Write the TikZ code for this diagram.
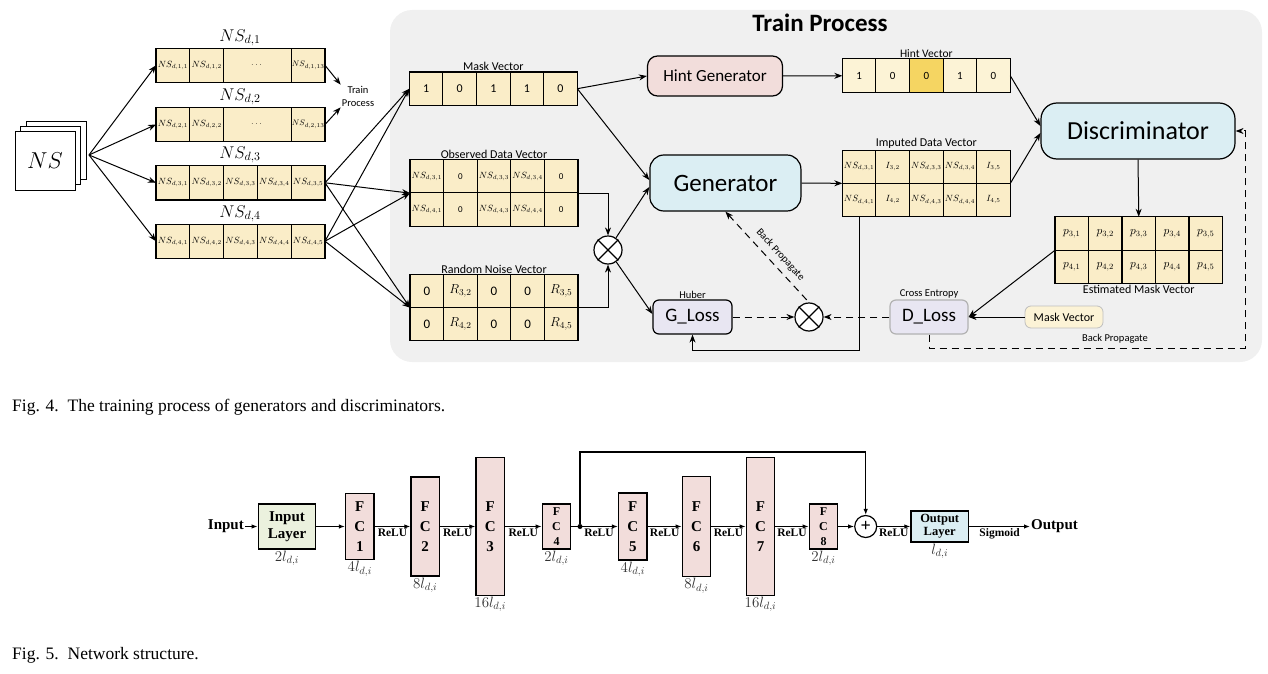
\RequirePackage{fix-cm}
\documentclass[tikz,border=0pt]{standalone}
\usepackage{amsmath}
\usepackage{fontspec}
\setmainfont{Liberation Serif}
\newfontfamily\calibri{Carlito}
\usetikzlibrary{calc,arrows.meta,positioning}
\definecolor{panelgray}{RGB}{240,240,240}
\definecolor{cellyellow}{RGB}{250,237,200}
\definecolor{hintpale}{RGB}{252,243,214}
\definecolor{hintgold}{RGB}{245,213,98}
\definecolor{hintrose}{RGB}{242,221,219}
\definecolor{netblue}{RGB}{219,238,243}
\definecolor{losslilac}{RGB}{232,230,242}
\definecolor{fcpink}{RGB}{242,221,219}
\definecolor{inputgreen}{RGB}{235,241,222}
\definecolor{dimgray}{RGB}{50,50,50}
\newcommand\fsz[2]{\fontsize{#1}{#2}\selectfont}

\tikzset{
  vcell/.style={draw, line width=1.1pt, fill=cellyellow, minimum width=33.6pt,
    minimum height=33.3pt, inner sep=0pt, outer sep=0pt},
  nscell/.style={vcell, minimum width=33.8pt, minimum height=34.3pt, font=\fsz{9}{11}},
  veclabel/.style={font=\calibri\fsz{12}{14}, inner sep=1pt},
  block/.style={draw, line width=1.2pt, inner sep=2pt},
  arr/.style={-{Stealth[length=8pt,width=6pt]}, line width=1pt},
  dasharr/.style={arr, dash pattern=on 7pt off 5pt},
  mulnode/.style={circle, draw, fill=white, line width=1.2pt, minimum size=28pt, inner sep=0pt},
  netbox/.style={draw, line width=1.5pt, inner sep=1pt, align=center},
  fcbox/.style={netbox, fill=fcpink, minimum width=28.3pt, font=\bfseries\fsz{15}{20}},
  netarr/.style={-{Latex[length=6pt,width=4.5pt]}, line width=1.1pt},
  relu/.style={font=\bfseries\fsz{11.5}{13}, anchor=north, inner sep=2pt},
  dimlabel/.style={text=dimgray, font=\fsz{15}{17}, anchor=north, inner sep=1pt}
}

\begin{document}
\begin{tikzpicture}[x=1pt, y=-1pt]
\useasboundingbox (0,0) rectangle (1268,674);

% ---------------- Fig. 4: training process ----------------
\fill[panelgray, rounded corners=22pt] (390,10) rectangle (1262,362);
\node[font=\calibri\bfseries\fsz{25}{30}] (title) at (820,23) {Train Process};

% stacked NS sheets
\node[draw, fill=white, line width=1pt, minimum width=60pt, minimum height=58pt] (ns3) at (56.7,150.7) {};
\node[draw, fill=white, line width=1pt, minimum width=60pt, minimum height=58pt] (ns2) at (50.7,155.7) {};
\node[draw, fill=white, line width=1pt, minimum width=60pt, minimum height=58pt, font=\fsz{23}{26}] (ns) at (45,161) {$NS$};
\coordinate (fan) at (89,155);

% NS_d rows
\foreach \rw/\yy in {1/65.3,2/124.5} {
  \node[nscell] (row\rw-1) at (172.9,\yy) {$NS_{d,\rw,1}$};
  \node[nscell] (row\rw-2) at (206.7,\yy) {$NS_{d,\rw,2}$};
  \node[nscell, minimum width=67.6pt] (row\rw-3) at (257.4,\yy) {$\dots$};
  \node[nscell, font=\fsz{8}{10}] (row\rw-e) at (308.1,\yy) {$NS_{d,\rw,13}$};
}
\foreach \rw/\yy in {3/182.8,4/241.2}
  \foreach \c in {1,...,5}
    \node[nscell] (row\rw-\c) at ({156+(\c-0.5)*33.8},\yy) {$NS_{d,\rw,\c}$};
\foreach \rw/\yy in {1/38,2/97,3/155,4/214}
  \node[font=\fsz{17}{20}] (lab\rw) at (240,\yy) {$NS_{d,\rw}$};
\foreach \rw in {1,...,4}
  \draw[arr] (fan) -- (row\rw-1.west);

\node[veclabel, font=\calibri\fsz{10.5}{13}, align=center] (tp) at (358,96) {Train\\Process};
\draw[arr] (row1-e.east) -- (tp.north west);
\draw[arr] (row2-e.east) -- (tp.south west);

% mask, observed and noise vectors
\foreach \t [count=\c] in {1,0,1,1,0}
  \node[vcell, font=\calibri\fsz{12}{14}] (mask\c) at ({409.3+(\c-0.5)*33.6},88.7) {\t};
\foreach \r/\rw in {1/3,2/4}
  \foreach \t [count=\c] in {{$NS_{d,\rw,1}$},{\calibri 0},{$NS_{d,\rw,3}$},{$NS_{d,\rw,4}$},{\calibri 0}}
    \node[vcell, font=\fsz{9}{11}] (obs\r\c) at ({410+(\c-0.5)*33.6},{143.5+\r*33}) {\t};
\foreach \r/\rw in {1/3,2/4}
  \foreach \t [count=\c] in {{\calibri 0},{$R_{\rw,2}$},{\calibri 0},{\calibri 0},{$R_{\rw,5}$}}
    \node[vcell, font=\fsz{13}{15}] (rnd\r\c) at ({410+(\c-0.5)*33.6},{258+\r*33}) {\t};
\node[veclabel, anchor=south] (masklab) at (mask3.north) {Mask Vector};
\node[veclabel, anchor=south] (obslab) at (obs13.north) {Observed Data Vector};
\node[veclabel, anchor=south] (rndlab) at (rnd13.north) {Random Noise Vector};
\foreach \rw in {3,4} {
  \draw[arr] (row\rw-5.east) -- (mask1.west);
  \draw[arr] (row\rw-5.east) -- (obs11.south west);
  \draw[arr] (row\rw-5.east) -- (rnd11.south west);
}

% hint, imputed and estimated vectors
\foreach \t/\f [count=\c] in {1/hintpale,0/hintpale,0/hintgold,1/hintpale,0/hintpale}
  \node[vcell, fill=\f, minimum height=33.7pt, font=\calibri\fsz{11}{13}] (hint\c) at ({842.3+(\c-0.5)*33.6},75.8) {\t};
\foreach \r/\rw in {1/3,2/4}
  \foreach \t [count=\c] in {{$NS_{d,\rw,1}$},{$I_{\rw,2}$},{$NS_{d,\rw,3}$},{$NS_{d,\rw,4}$},{$I_{\rw,5}$}}
    \node[vcell, font=\fsz{9}{11}] (imp\r\c) at ({842.3+(\c-0.5)*33.6},{133.4+\r*33.3}) {\t};
\foreach \r/\rw in {1/3,2/4}
  \foreach \c in {1,...,5}
    \node[vcell, minimum width=33.5pt, minimum height=33.5pt, font=\fsz{11.5}{13}] (est\r\c) at ({1055+(\c-0.5)*33.5},{200+\r*33.5}) {$p_{\rw,\c}$};
\node[veclabel, font=\calibri\fsz{11.5}{13}, anchor=south] (hintlab) at (hint3.north) {Hint Vector};
\node[veclabel, anchor=south] (implab) at (imp13.north) {Imputed Data Vector};
\node[veclabel, anchor=north] (estlab) at (est23.south) {Estimated Mask Vector};

% networks and losses
\node[block, fill=hintrose, minimum width=135pt, minimum height=40pt, rounded corners=10pt, font=\calibri\fsz{17}{20}] (hgen) at (715,76) {Hint Generator};
\node[block, fill=netblue, minimum width=151pt, minimum height=56pt, rounded corners=14pt, font=\calibri\fsz{25}{30}] (gen) at (725.4,183) {Generator};
\node[block, fill=netblue, minimum width=194pt, minimum height=56pt, rounded corners=16pt, font=\calibri\fsz{26}{30}] (disc) at (1138,131) {Discriminator};
\node[block, fill=losslilac, minimum width=79pt, minimum height=34pt, rounded corners=6pt, font=\calibri\fsz{19}{22}] (gloss) at (692.5,317) {G\_Loss};
\node[block, draw=black!30, fill=losslilac, minimum width=78pt, minimum height=34pt, rounded corners=6pt, font=\calibri\fsz{19}{22}] (dloss) at (929,317) {D\_Loss};
\node[block, draw=black!25, line width=0.8pt, fill=hintpale, minimum width=78pt, minimum height=22pt, rounded corners=6pt, font=\calibri\fsz{12}{14}] (maskin) at (1064,317) {Mask Vector};
\node[veclabel, font=\calibri\fsz{10.5}{13}, anchor=south] (huber) at (gloss.north) {Huber};
\node[veclabel, font=\calibri\fsz{10.5}{13}, anchor=south] (xent) at (dloss.north) {Cross Entropy};

% element-wise products
\node[mulnode] (mul1) at (608,250) {};
\node[mulnode] (mul2) at (809,317) {};
\foreach \m in {mul1,mul2}
  \draw[line width=1.2pt] (\m.north west) -- (\m.south east) (\m.north east) -- (\m.south west);

% connectors
\draw[arr] (obs15.south east) -| (mul1.north);
\draw[arr] (rnd15.south east) -| (mul1.south);
\draw[arr] (mask5.east) -- (hgen.west);
\draw[arr] (mask5.east) -- ($(gen.west)+(0,-3)$);
\draw[arr] (mul1) -- ($(gen.west)+(0,4)$);
\draw[arr] (mul1) -- ($(gloss.west)+(0,-3)$);
\draw[arr] (hgen.east) -- (hint1.west);
\draw[arr] (hint5.east) -- ($(disc.west)+(0,-5)$);
\draw[arr] (imp15.south east) -- ($(disc.west)+(0,2)$);
\draw[arr] (gen.east) -- (imp11.south west);
\draw[arr] (disc.south) -- (est13.north);
\draw[arr] (est11.south west) -- (dloss.east);
\draw[arr] (maskin.west) -- (dloss.east);
\draw[arr] (imp21.south) |- ($(gloss.south)+(0,15.5)$) -- (gloss.south);
\draw[dasharr] (gloss.east) -- (mul2.west);
\draw[dasharr] (dloss.west) -- (mul2.east);
\draw[dasharr, {Stealth[length=8pt,width=6pt]}-] (gen.south) -- node[pos=0.56, sloped, above=5pt, font=\calibri\fsz{10.5}{13}, inner sep=1pt] (bplab) {Back Propagate} (mul2.north);
\coordinate (bpcorner) at (1245,348);
\draw[dasharr] (dloss.south) |- (bpcorner) |- (disc.east);
\node[veclabel, font=\calibri\fsz{10.5}{13}] (bplab2) at (1115,339) {Back Propagate};

\node[anchor=base west, font=\fsz{17.5}{20}, inner sep=0pt] (cap4) at (12,411) {Fig. 4.\enspace The training process of generators and discriminators.};

% ---------------- Fig. 5: network structure ----------------
\node[font=\bfseries\fsz{15}{18}, anchor=east, inner sep=1pt] (inp) at (245,526.5) {Input};
\node[netbox, fill=inputgreen, minimum width=57.4pt, minimum height=45pt, font=\bfseries\fsz{15}{17}] (inlayer) at (287,526.5) {Input\\Layer};
\foreach \n/\xx/\hh in {1/359.8/66pt,2/425.2/99.3pt,3/490.2/137.7pt,5/632.8/66.6pt,6/696.5/100pt,7/760.5/137.7pt}
  \node[fcbox, minimum height=\hh] (fc\n) at (\xx,526.5) {F\\C\\\n};
\foreach \n/\xx in {4/556.5,8/823.5}
  \node[fcbox, minimum height=45pt, font=\bfseries\fsz{12}{15}] (fc\n) at (\xx,526.5) {F\\C\\\n};
\node[circle, draw, line width=1.2pt, fill=white, minimum size=22pt, inner sep=0pt, font=\bfseries\fsz{18}{18}] (plus) at (865.7,526.5) {+};
\node[netbox, fill=netblue, minimum width=57.3pt, minimum height=31pt, font=\bfseries\fsz{12.5}{13}] (outlayer) at (939.7,526.5) {Output\\Layer};
\node[font=\bfseries\fsz{15}{18}, anchor=west, inner sep=1pt] (outp) at (1030,526.5) {Output};
\node[circle, fill, inner sep=0pt, minimum size=5pt] (dot) at (580,526.5) {};

\foreach \a/\b in {inp/inlayer,inlayer/fc1,fc1/fc2,fc2/fc3,fc3/fc4,fc4/fc5,fc5/fc6,fc6/fc7,fc7/fc8,fc8/plus,plus/outlayer,outlayer/outp}
  \draw[netarr] (\a.east) -- (\b.west);
\coordinate (skp) at (865.7,452);
\draw[netarr] (dot) |- (skp) -- (plus.north);

\foreach \a/\b in {fc1/fc2,fc2/fc3,fc3/fc4,fc5/fc6,fc6/fc7,fc7/fc8,plus/outlayer}
  \node[relu] at ($(\a.east)!0.5!(\b.west)$) {ReLU};
\node[relu] (relu45) at ($(dot)!0.5!(fc5.west)$) {ReLU};
\node[relu] (sigm) at ($(outlayer.east)!0.5!(outp.west)$) {Sigmoid};

\foreach \b/\t in {inlayer/2,fc1/4,fc2/8,fc3/16,fc4/2,fc5/4,fc6/8,fc7/16,fc8/2}
  \node[dimlabel] (\b-dim) at (\b.south) {$\t l_{d,i}$};
\node[dimlabel] (outlayer-dim) at (outlayer.south) {$l_{d,i}$};

\node[anchor=base west, font=\fsz{17.5}{20}, inner sep=0pt] (cap5) at (12,659) {Fig. 5.\enspace Network structure.};
\end{tikzpicture}
\end{document}
